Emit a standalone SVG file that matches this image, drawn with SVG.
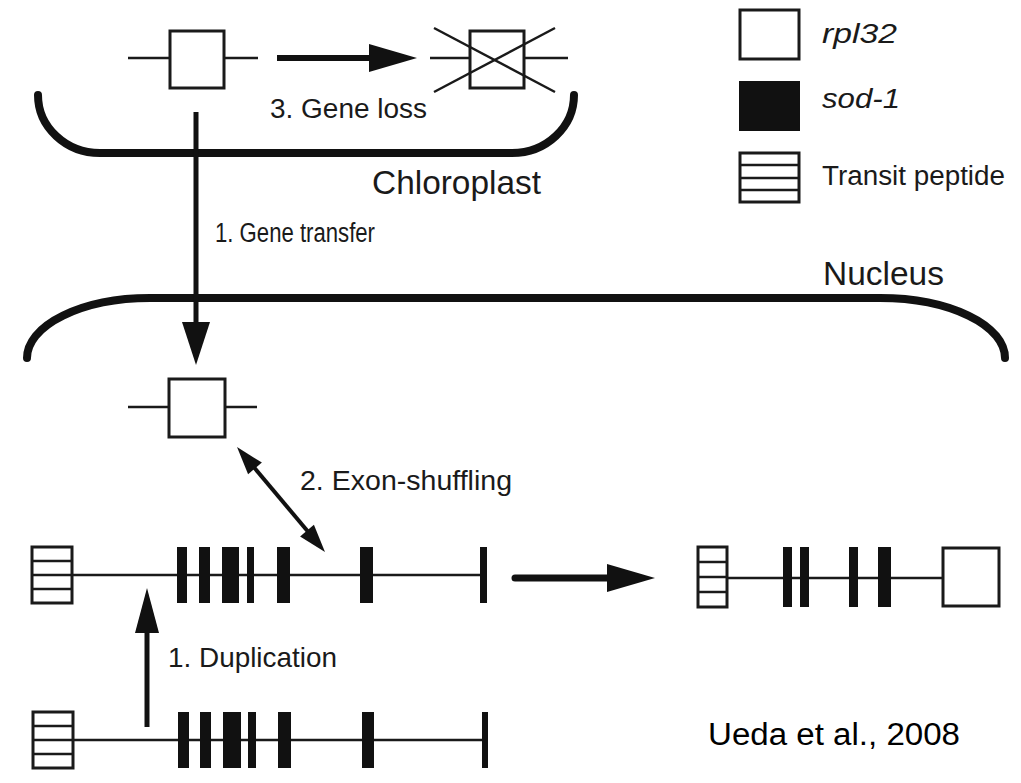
<svg xmlns="http://www.w3.org/2000/svg" width="1021" height="783" viewBox="0 0 1021 783">
<style>
.t{font-family:"Liberation Sans",Arial,Helvetica,sans-serif;fill:#1a1a1a}
.i{font-style:italic}
.gl{stroke:#1a1a1a;stroke-width:2.5;fill:none}
.bx{stroke:#1a1a1a;stroke-width:3;fill:#fff}
.ex{fill:#111}
.mem{stroke:#111;stroke-width:8;fill:none;stroke-linecap:round}
.arr{stroke:#111;fill:none}
.hd{fill:#111}
</style>
<rect width="1021" height="783" fill="#fff"/>

<g id="chloroplast">
<path class="mem" d="M 38 95 A 62 58 0 0 0 100 153 L 512 153 A 62 58 0 0 0 574 95"/>
<text class="t" x="372" y="194" font-size="33" textLength="169" lengthAdjust="spacingAndGlyphs">Chloroplast</text>
</g>

<g id="nucleus">
<path class="mem" d="M 27 358 A 123 60 0 0 1 150 298 L 880 298 A 125 60 0 0 1 1005 358"/>
<text class="t" x="823" y="285" font-size="33" textLength="121" lengthAdjust="spacingAndGlyphs">Nucleus</text>
</g>

<g id="cp-gene">
<line class="gl" x1="128" y1="58" x2="258" y2="58"/>
<rect class="bx" x="170" y="31" width="54" height="57"/>
</g>

<g id="lost-gene">
<line class="gl" x1="430" y1="58" x2="568" y2="58"/>
<rect class="bx" x="470" y="31" width="54" height="57"/>
<line class="gl" x1="434" y1="28" x2="555" y2="92"/>
<line class="gl" x1="434" y1="92" x2="555" y2="28"/>
</g>

<g id="nuc-gene">
<line class="gl" x1="128" y1="407" x2="257" y2="407"/>
<rect class="bx" x="169" y="379" width="56" height="58"/>
</g>

<g id="sod-dup">
<line class="gl" x1="72" y1="575" x2="483" y2="575"/>
<rect class="bx" x="32" y="547" width="40" height="56"/>
<line class="gl" x1="32" y1="561" x2="72" y2="561"/>
<line class="gl" x1="32" y1="575" x2="72" y2="575"/>
<line class="gl" x1="32" y1="589" x2="72" y2="589"/>
<rect class="ex" x="177" y="547" width="10" height="56"/>
<rect class="ex" x="199" y="547" width="11" height="56"/>
<rect class="ex" x="222" y="547" width="17" height="56"/>
<rect class="ex" x="247" y="547" width="7" height="56"/>
<rect class="ex" x="277" y="547" width="13" height="56"/>
<rect class="ex" x="360" y="547" width="13" height="56"/>
<rect class="ex" x="480" y="547" width="7" height="56"/>
</g>

<g id="sod-orig">
<line class="gl" x1="73" y1="740" x2="485" y2="740"/>
<rect class="bx" x="33" y="712" width="40" height="56"/>
<line class="gl" x1="33" y1="726" x2="73" y2="726"/>
<line class="gl" x1="33" y1="740" x2="73" y2="740"/>
<line class="gl" x1="33" y1="754" x2="73" y2="754"/>
<rect class="ex" x="178" y="712" width="11" height="56"/>
<rect class="ex" x="200" y="712" width="11" height="56"/>
<rect class="ex" x="223" y="712" width="18" height="56"/>
<rect class="ex" x="248" y="712" width="8" height="56"/>
<rect class="ex" x="278" y="712" width="13" height="56"/>
<rect class="ex" x="362" y="712" width="12" height="56"/>
<rect class="ex" x="482" y="712" width="6" height="56"/>
</g>

<g id="fusion-gene">
<line class="gl" x1="727" y1="578" x2="943" y2="578"/>
<rect class="bx" x="698" y="547" width="29" height="60"/>
<line class="gl" x1="698" y1="562" x2="727" y2="562"/>
<line class="gl" x1="698" y1="577" x2="727" y2="577"/>
<line class="gl" x1="698" y1="592" x2="727" y2="592"/>
<rect class="ex" x="783" y="547" width="9" height="60"/>
<rect class="ex" x="800" y="547" width="9" height="60"/>
<rect class="ex" x="849" y="547" width="9" height="60"/>
<rect class="ex" x="878" y="547" width="13" height="60"/>
<rect class="bx" x="943" y="548" width="56" height="58"/>
</g>

<g id="legend">
<rect class="bx" x="740" y="10" width="59" height="49"/>
<text class="t i" x="822" y="43" font-size="28" textLength="75" lengthAdjust="spacingAndGlyphs">rpl32</text>
<rect x="739" y="81" width="61" height="50" fill="#111"/>
<text class="t i" x="822" y="108" font-size="28" textLength="78" lengthAdjust="spacingAndGlyphs">sod-1</text>
<rect class="bx" x="740" y="153" width="59" height="49"/>
<line class="gl" x1="740" y1="165" x2="799" y2="165"/>
<line class="gl" x1="740" y1="178" x2="799" y2="178"/>
<line class="gl" x1="740" y1="190" x2="799" y2="190"/>
<text class="t" x="822" y="185" font-size="27" textLength="183" lengthAdjust="spacingAndGlyphs">Transit peptide</text>
</g>

<g id="connectors">
<line class="arr" x1="277" y1="58" x2="372" y2="58" stroke-width="6"/>
<polygon class="hd" points="369,44 369,72 417,58"/>
<text class="t" x="270" y="118" font-size="27" textLength="157" lengthAdjust="spacingAndGlyphs">3. Gene loss</text>
<line class="arr" x1="196" y1="112" x2="196" y2="325" stroke-width="5"/>
<polygon class="hd" points="182,322 210,322 196,365"/>
<text class="t" x="215" y="242" font-size="27" textLength="160" lengthAdjust="spacingAndGlyphs">1. Gene transfer</text>
<line class="arr" x1="252" y1="465" x2="310" y2="534" stroke-width="4"/>
<polygon class="hd" points="237,447 248.1,474.2 261.9,462.6"/>
<polygon class="hd" points="325,552 300.1,536.4 313.9,524.8"/>
<text class="t" x="300" y="490" font-size="28" textLength="212" lengthAdjust="spacingAndGlyphs">2. Exon-shuffling</text>
<line class="arr" x1="147" y1="727" x2="147" y2="630" stroke-width="5"/>
<polygon class="hd" points="135,633 159,633 147,588"/>
<text class="t" x="168" y="667" font-size="28" textLength="169" lengthAdjust="spacingAndGlyphs">1. Duplication</text>
<line class="arr" x1="515" y1="578" x2="610" y2="578" stroke-width="7" stroke-linecap="round"/>
<polygon class="hd" points="607,564 607,592 655,578"/>
</g>

<text x="708" y="745" font-family="'Liberation Sans',Arial,sans-serif" font-size="31" textLength="252" lengthAdjust="spacingAndGlyphs" fill="#000">Ueda et al., 2008</text>
</svg>
